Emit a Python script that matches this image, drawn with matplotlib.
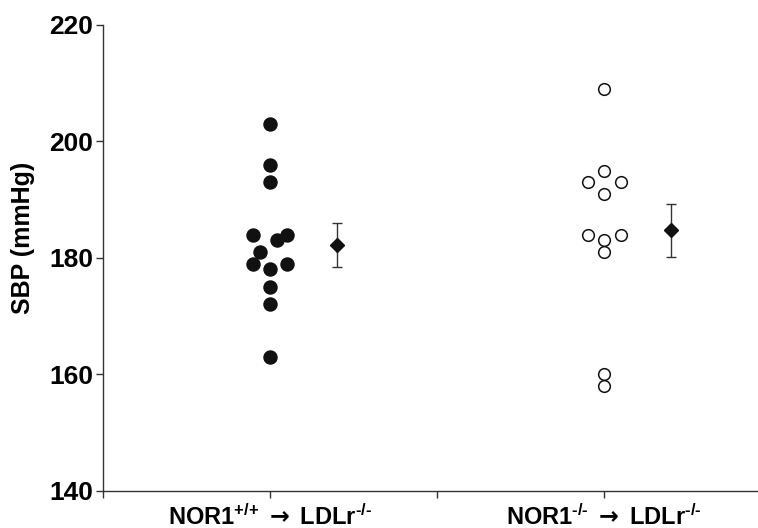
import numpy as np
import matplotlib.pyplot as plt

plt.rcParams['font.family'] = ['Liberation Sans', 'DejaVu Sans']
plt.rcParams['font.weight'] = 'bold'
plt.rcParams['mathtext.fontset'] = 'custom'
plt.rcParams['mathtext.rm'] = 'Liberation Sans:bold'
plt.rcParams['mathtext.it'] = 'Liberation Sans:bold'
plt.rcParams['mathtext.bf'] = 'Liberation Sans:bold'
plt.rcParams['mathtext.sf'] = 'DejaVu Sans'

# SBP values (mmHg)
wt_sbp = [203, 196, 193, 184, 184, 183, 181, 179, 179, 178, 175, 172, 163]
wt_dx = [0, 0, 0, -0.1, 0.1, 0.04, -0.06, -0.1, 0.1, 0, 0, 0, 0]
ko_sbp = [209, 195, 193, 193, 191, 184, 184, 183, 181, 160, 158]
ko_dx = [0, 0, -0.1, 0.1, 0, -0.1, 0.1, 0, 0, 0, 0]

group_pos = [1, 3]
means = [182.2, 184.7]
sems = [3.8, 4.5]
group_labels = [r'NOR1$^{\text{+/+}}$ $\mathsf{\rightarrow}$ LDLr$^{\text{-/-}}$',
                r'NOR1$^{\text{-/-}}$ $\mathsf{\rightarrow}$ LDLr$^{\text{-/-}}$']

fig = plt.figure(figsize=(7.58, 5.28), dpi=100)
ax = fig.add_axes([0.1359, 0.0707, 0.8641, 0.882])

ink = '#111111'
ax.plot(group_pos[0] + np.array(wt_dx), wt_sbp, 'o', ms=9.4, color=ink,
        mec=ink, ls='none')
ax.plot(group_pos[1] + np.array(ko_dx), ko_sbp, 'o', ms=8.4, mfc='white',
        mec=ink, mew=1.1, ls='none')

mean_x = np.array(group_pos) + 0.4
ax.errorbar(mean_x, means, yerr=sems, fmt='D', ms=7.5, color=ink,
            ecolor='#333333', elinewidth=1, capsize=3.8, capthick=1)

ax.set_xlim(0, 3.92)
ax.set_ylim(140, 220)
ax.set_yticks([140, 160, 180, 200, 220])
ax.set_xticks([0, 1, 2, 3])
ax.set_xticklabels(['', group_labels[0], '', group_labels[1]])

for s in ['top', 'right']:
    ax.spines[s].set_visible(False)
for s in ['left', 'bottom']:
    ax.spines[s].set_color('#333333')
    ax.spines[s].set_linewidth(1)

ax.tick_params(axis='y', labelsize=19, length=5, width=1, pad=2, color='#333333')
ax.tick_params(axis='x', labelsize=17, length=5, width=1, pad=5, color='#333333')
ax.set_ylabel('SBP (mmHg)', fontsize=18, fontweight='bold')
ax.yaxis.set_label_coords(-0.104, 0.543)

fig.savefig('out.png', dpi=100)
